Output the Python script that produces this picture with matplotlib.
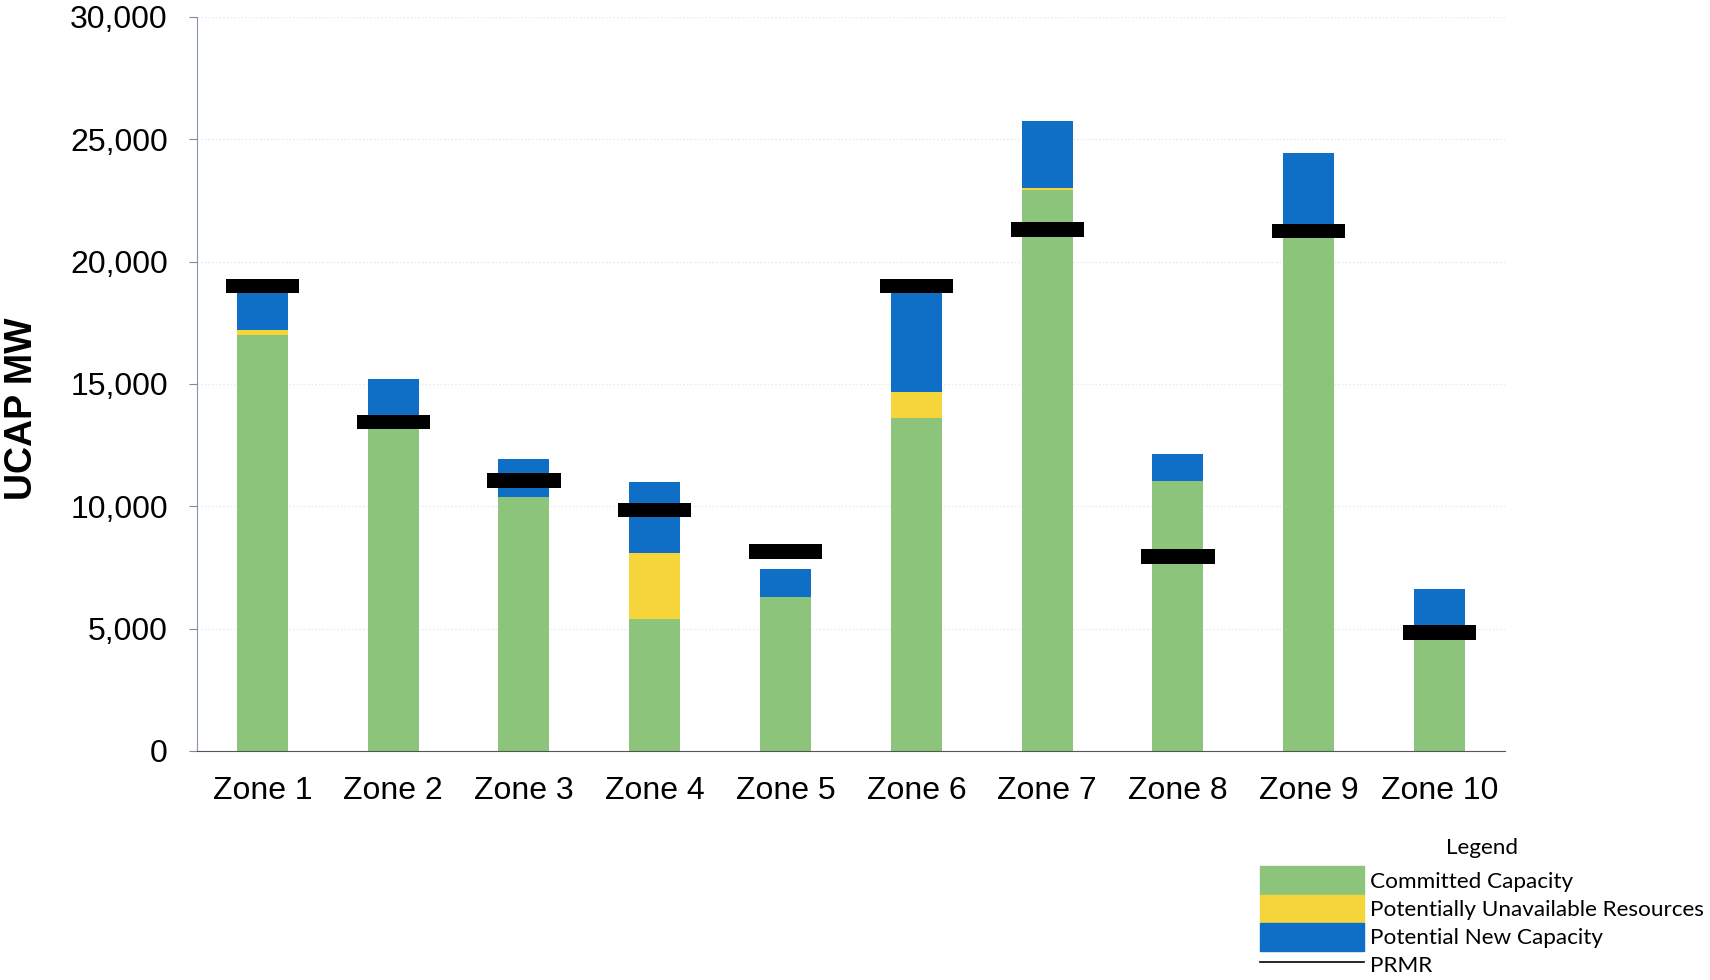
import matplotlib
matplotlib.use("Agg")
import matplotlib.pyplot as plt
import numpy as np
from matplotlib.patches import Patch
from matplotlib.lines import Line2D

zones = ["Zone 1", "Zone 2", "Zone 3", "Zone 4", "Zone 5",
         "Zone 6", "Zone 7", "Zone 8", "Zone 9", "Zone 10"]
committed = [17000, 13150, 10400, 5400, 6300, 13600, 22920, 11030, 21200, 4600]
unavailable = [200, 0, 0, 2700, 0, 1060, 90, 0, 0, 0]
new_capacity = [1500, 2050, 1550, 2900, 1140, 4040, 2740, 1100, 3250, 2040]
prmr = [19000, 13450, 11060, 9850, 8150, 19000, 21300, 7950, 21250, 4850]

green = "#8cc47c"
yellow = "#f6d53a"
blue = "#0f6fc6"

plt.rcParams['font.family'] = ['Liberation Sans', 'DejaVu Sans']

fig = plt.figure(figsize=(17.1, 9.8), dpi=100)
ax = fig.add_axes([0.1152, 0.2337, 0.7649, 0.749])

x = np.arange(len(zones))
committed = np.array(committed)
unavailable = np.array(unavailable)
new_capacity = np.array(new_capacity)
prmr = np.array(prmr)

ax.bar(x, committed, width=0.39, color=green, zorder=2)
ax.bar(x, unavailable, width=0.39, bottom=committed, color=yellow, zorder=2)
ax.bar(x, new_capacity, width=0.39, bottom=committed + unavailable, color=blue, zorder=2)
# PRMR shown as thick black bars
ax.bar(x, 600, width=0.56, bottom=prmr - 300, color="black", zorder=3)

ax.set_xlim(-0.5, 9.5)
ax.set_ylim(0, 30000)
ax.set_yticks(np.arange(0, 30001, 5000))
ax.set_yticklabels([f"{v:,}" for v in range(0, 30001, 5000)])
ax.set_xticks(x)
ax.set_xticklabels(zones)
ax.tick_params(axis="y", labelsize=23, length=6, color="#888888", pad=15)
ax.tick_params(axis="x", labelsize=23, length=0, pad=18)
ax.yaxis.grid(True, color="#e8e8e8", linestyle=":", linewidth=1, zorder=0)
ax.set_axisbelow(True)

for s in ["top", "right"]:
    ax.spines[s].set_visible(False)
ax.spines["left"].set_color("#8596a8")
ax.spines["bottom"].set_color("#555555")

ax.set_ylabel("UCAP MW", fontsize=27, fontweight="bold")
ax.yaxis.set_label_coords(-0.12, 0.466)

handles = [Patch(color=green), Patch(color=yellow), Patch(color=blue),
           Line2D([0], [0], color="black", linewidth=1.2)]
labels = ["Committed Capacity", "Potentially Unavailable Resources",
          "Potential New Capacity", "PRMR"]
leg = fig.legend(handles, labels, title="Legend", loc="upper left",
                 bbox_to_anchor=(1260 / 1710, 1 - 838 / 980),
                 frameon=False, prop={"family": "Lato", "size": 16.2},
                 title_fontproperties={"family": "Lato", "size": 16.2},
                 handlelength=4.6, handleheight=1.55, handletextpad=0.3,
                 labelspacing=0, borderpad=0, borderaxespad=0)
leg._legend_box.sep = 6

fig.savefig("out.png", dpi=100)
